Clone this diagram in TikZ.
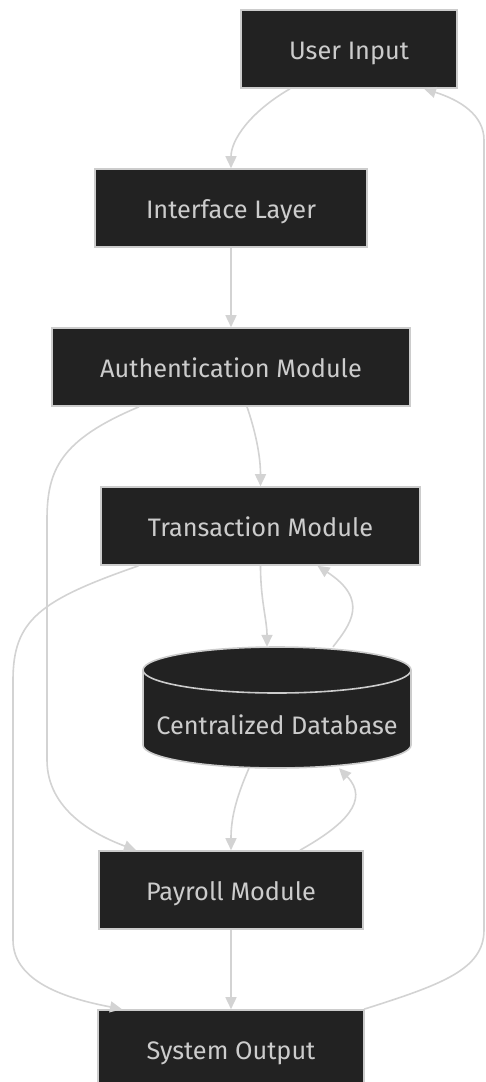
\documentclass[tikz,border=0pt]{standalone}
\usepackage{fontspec}
\setmainfont{Fira Sans}
\usetikzlibrary{arrows.meta}
\definecolor{boxfill}{HTML}{222222}
\definecolor{boxline}{HTML}{CCCCCC}
\definecolor{boxtext}{HTML}{CCCCCC}
\definecolor{edgecol}{HTML}{D3D3D3}
\tikzset{
  lbl/.style={text=boxtext, font=\fontsize{25.3}{28}\selectfont,
    text height=20.5pt, text depth=0pt},
  box/.style={lbl, rectangle, draw=boxline, fill=boxfill, line width=1.6pt,
    minimum height=78pt, inner sep=0pt},
  edge/.style={draw=edgecol, line width=1.6pt,
    -{Triangle[length=12pt,width=11pt]}},
}
\begin{document}
\begin{tikzpicture}[x=1pt,y=-1pt]
\useasboundingbox (0,0) rectangle (485,1082);

% process boxes
\node[box, minimum width=216pt] (ui) at (349,49) {User Input};
\node[box, minimum width=272pt] (il) at (231,208) {Interface Layer};
\node[box, minimum width=358pt] (auth) at (231,367) {Authentication Module};
\node[box, minimum width=319pt] (tm) at (260.5,526) {Transaction Module};
\node[box, minimum width=264pt] (pm) at (231,890) {Payroll Module};
\node[box, minimum width=266pt] (so) at (231,1049) {System Output};

% database cylinder
\node[rectangle, minimum width=268pt, minimum height=121pt, inner sep=0pt] (db) at (277,707.5) {};
\filldraw[draw=boxline, fill=boxfill, line width=1.6pt]
  (143,670) -- (143,745) arc[start angle=180, end angle=360, x radius=134pt, y radius=23pt]
  -- (411,670) arc[start angle=0, end angle=180, x radius=134pt, y radius=23pt] -- cycle;
\draw[draw=boxline, line width=1.6pt]
  (143,670) arc[start angle=180, end angle=360, x radius=134pt, y radius=23pt];
\node[lbl, inner sep=0pt] (dbtext) at (277,723.75) {Centralized Database};

% connectors
\draw[edge] ([xshift=-59pt]ui.south) .. controls (250,112) and (231,140) .. (il.north);
\draw[edge] (il.south) -- (auth.north);
\draw[edge] ([xshift=16pt]auth.south) .. controls (255,430) and (260.5,455) .. (tm.north);
\draw[edge] ([xshift=-92pt]auth.south) .. controls (60,440) and (47,470) .. (47,520)
  -- (47,760) .. controls (47,810) and (95,835) .. ([xshift=-95pt]pm.north);
\draw[edge] ([xshift=-122pt]tm.south) .. controls (40,600) and (13,620) .. (13,680)
  -- (13,940) .. controls (13,985) and (75,1000) .. ([xshift=-109pt]so.north);
\draw[edge] ([xshift=0pt]tm.south) .. controls (260.5,600) and (267,620) .. ([xshift=-10pt]db.north);
\draw[edge] ([xshift=56pt]db.north) .. controls (350,625) and (370,600) .. ([xshift=57pt]tm.south);
\draw[edge] ([xshift=-28pt]db.south) .. controls (235,800) and (231,820) .. (pm.north);
\draw[edge] ([xshift=69pt]pm.north) .. controls (345,825) and (370,800) .. ([xshift=62pt]db.south);
\draw[edge] (pm.south) -- (so.north);
\draw[edge] ([xshift=133pt]so.north) .. controls (440,985) and (484,970) .. (484,930)
  -- (484,140) .. controls (484,115) and (460,100) .. ([xshift=75pt]ui.south);
\end{tikzpicture}
\end{document}
